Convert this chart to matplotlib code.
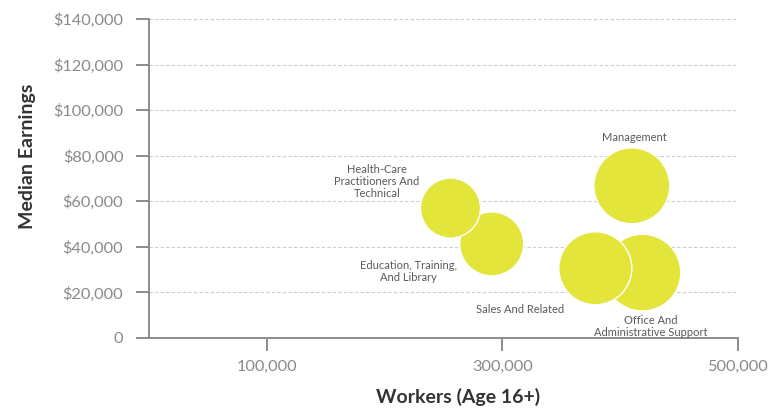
import matplotlib
matplotlib.use("Agg")
import matplotlib.pyplot as plt
from matplotlib.ticker import FuncFormatter

plt.rcParams['font.family'] = ['Lato', 'DejaVu Sans']

# данные
occupations = [
    "Education, Training,\nAnd Library",
    "Health-Care\nPractitioners And\nTechnical",
    "Office And\nAdministrative Support",
    "Sales And Related",
    "Management",
]
workers = [291000, 256000, 419000, 379000, 410000]
earnings = [41300, 57000, 28700, 30600, 66800]

y_ticks = [0, 20000, 40000, 60000, 80000, 100000, 120000, 140000]
x_ticks = [100000, 300000, 500000]

# смещения подписей от центра пузыря (в пунктах)
label_offsets = [(-60, -20), (-53, 19), (6, -39), (-54, -30), (2, 35)]

fig = plt.figure(figsize=(7.71, 4.13), dpi=100)
ax = fig.add_axes([0.1933, 0.1816, 0.7637, 0.7724])

sizes = [w * 7.29e-3 for w in workers]
ax.scatter(workers, earnings, s=sizes, color="#e3e53a", edgecolor="white",
           linewidth=1.0, zorder=3)

for name, x, y, (dx, dy) in zip(occupations, workers, earnings, label_offsets):
    ax.annotate(name, (x, y), xytext=(dx, dy), textcoords="offset points",
                ha="center", va="center", fontsize=8, color="#5a5a5a",
                linespacing=1.1, zorder=4)

ax.set_xlim(0, 500000)
ax.set_ylim(0, 140000)
ax.set_xticks(x_ticks)
ax.set_yticks(y_ticks)
ax.xaxis.set_major_formatter(FuncFormatter(lambda v, p: f"{int(v):,}"))
ax.yaxis.set_major_formatter(FuncFormatter(lambda v, p: "0" if v == 0 else f"${int(v):,}"))

for y in y_ticks[1:]:
    ax.axhline(y, color="#cccccc", linewidth=0.8, linestyle=(0, (3, 2)), zorder=1)

for side in ["top", "right"]:
    ax.spines[side].set_visible(False)
for side in ["left", "bottom"]:
    ax.spines[side].set_color("#8c8c8c")
    ax.spines[side].set_linewidth(1.4)

ax.tick_params(axis="y", direction="out", length=9.5, width=1.4, color="#8c8c8c",
               labelsize=11.8, labelcolor="#8a8a8a", pad=9)
ax.tick_params(axis="x", direction="out", length=9, width=1.4, color="#8c8c8c",
               labelsize=11.8, labelcolor="#8a8a8a", pad=7)

ax.set_ylabel("Median Earnings", fontsize=14, fontweight="bold", color="#333333")
ax.yaxis.set_label_coords(-0.192, 0.57)
ax.set_xlabel("Workers (Age 16+)", fontsize=14, fontweight="bold", color="#333333")
ax.xaxis.set_label_coords(0.525, -0.155)

fig.savefig("out.png", dpi=100, facecolor="white")
